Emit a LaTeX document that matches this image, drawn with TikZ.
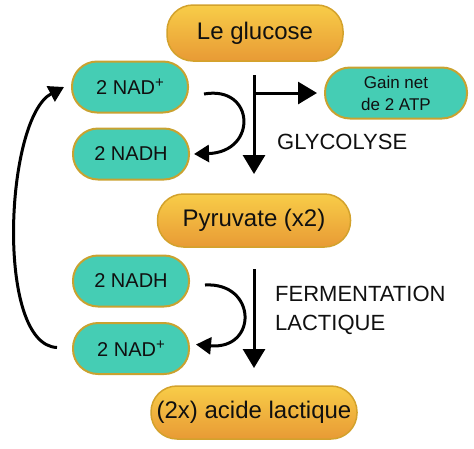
\documentclass[tikz,border=0pt]{standalone}
\usepackage{fontspec}
\setmainfont{Liberation Sans}
\usetikzlibrary{arrows.meta,calc}
\definecolor{ytop}{HTML}{F8CD48}
\definecolor{ybot}{HTML}{E89A35}
\definecolor{yedge}{HTML}{D3A22C}
\definecolor{teal}{HTML}{45CDB4}
\definecolor{tedge}{HTML}{C9A230}
\definecolor{ink}{HTML}{101010}
\tikzset{
  x=1pt, y=-1pt,
  yel/.style={rectangle, rounded corners=26pt, draw=yedge, line width=1.5pt,
    top color=ytop, bottom color=ybot, text=ink, inner sep=0pt,
    font=\fontsize{24}{28}\selectfont},
  grn/.style={rectangle, rounded corners=25pt, draw=tedge, line width=2pt,
    fill=teal, text=ink, inner sep=0pt, minimum width=116pt, minimum height=51pt,
    font=\fontsize{20}{24}\selectfont},
  lbl/.style={text=ink, anchor=west, inner sep=0pt, align=left,
    font=\fontsize{22}{29}\selectfont},
  bigarrow/.style={line width=3pt, -{Triangle[width=22pt,length=19pt]}},
  curvarrow/.style={line width=3pt, -{Triangle[width=17pt,length=15pt]}},
}
\newcommand{\nadp}{2 NAD\raisebox{0.36em}{\fontsize{15}{15}\selectfont +}}
\begin{document}
\begin{tikzpicture}
\useasboundingbox (0,0) rectangle (474,448);
\node[yel, minimum width=176pt, minimum height=56pt] (glu) at (255,33) {Le glucose};
\node[grn, minimum width=142pt, font=\fontsize{17}{22}\selectfont, align=center] (gain) at (396,93) {Gain net\\de 2 ATP};
\node[grn] (nadA) at (130,87) {\nadp};
\node[grn] (nadhA) at (131,154) {2 NADH};
\node[yel, minimum width=193pt, minimum height=53pt] (pyr) at (254,220.5) {Pyruvate (x2)};
\node[grn] (nadhB) at (131,281) {2 NADH};
\node[grn] (nadB) at (131,348.5) {\nadp};
\node[yel, minimum width=206pt, minimum height=53pt] (lac) at (254,412.5) {(2x) acide lactique};
\node[lbl] (gly) at (277,142) {GLYCOLYSE};
\node[lbl] (fer) at (275,310.5) {FERMENTATION\\LACTIQUE};
% glycolysis
\coordinate (g0) at (254,75);
\coordinate (g1) at (254,174);
\coordinate (gb) at (254,93);
\draw[bigarrow] (g0) -- (g1);
\draw[bigarrow] (gb) -- ([xshift=-7pt]gain.west);
% fermentation
\coordinate (f0) at (254,269);
\coordinate (f1) at (254,368);
\draw[bigarrow] (f0) -- (f1);
% curved arrows
\draw[curvarrow] ([xshift=15pt,yshift=-7pt]nadA.east) .. controls (255,85) and (258,152) .. ([xshift=4pt]nadhA.east);
\draw[curvarrow] ([xshift=15pt,yshift=-4pt]nadhB.east) .. controls (257,282) and (258,350) .. ([xshift=6pt,yshift=4pt]nadB.east);
% recycle arrow
\draw[curvarrow] ([xshift=-15pt,yshift=1pt]nadB.west) .. controls (-5,345) and (5,118) .. ([xshift=-7pt]nadA.west);
\end{tikzpicture}
\end{document}
